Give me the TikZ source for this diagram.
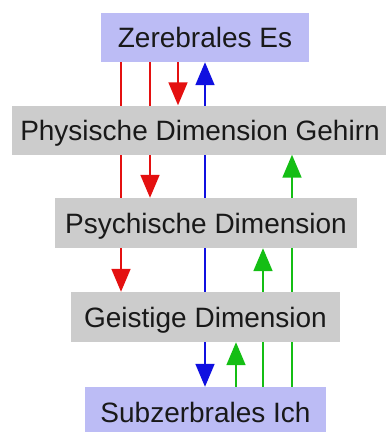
\documentclass[tikz,border=0pt]{standalone}
\usepackage{fontspec}
\setmainfont{Liberation Sans}
\usetikzlibrary{arrows.meta,backgrounds}
\definecolor{lav}{RGB}{188,188,245}
\definecolor{gry}{RGB}{204,204,204}
\definecolor{lred}{RGB}{228,16,16}
\definecolor{lblue}{RGB}{16,16,224}
\definecolor{lgreen}{RGB}{20,190,20}
\tikzset{
  box/.style={inner sep=0pt, text height=20pt, text depth=0pt,
    font=\fontsize{28}{33}\selectfont, text=black!90},
  lavbox/.style={box, fill=lav},
  grybox/.style={box, fill=gry},
  conn/.style={line width=1.8pt},
  tip/.style={-{Triangle[length=23pt,width=19pt]}},
  bitip/.style={{Triangle[length=23pt,width=19pt]}-{Triangle[length=23pt,width=19pt]}}
}
\begin{document}
\begin{tikzpicture}[x=1pt,y=-1pt]
\useasboundingbox (0,0) rectangle (386,432);
\node[lavbox, minimum width=208pt, minimum height=49pt] (es) at (205,37.5) {Zerebrales Es};
\node[grybox, minimum width=376pt, minimum height=49pt] (phys) at (200,130) {Physische Dimension Gehirn};
\node[grybox, minimum width=302pt, minimum height=50pt] (psych) at (206,223) {Psychische Dimension};
\node[grybox, minimum width=269pt, minimum height=50pt] (geist) at (205.5,317) {Geistige Dimension};
\node[lavbox, minimum width=241pt, minimum height=50pt] (sub) at (205.5,412) {Subzerbrales Ich};
\coordinate (r1) at (121,0);
\coordinate (r2) at (150,0);
\coordinate (r3) at (178,0);
\coordinate (b1) at (205,0);
\coordinate (g1) at (236,0);
\coordinate (g2) at (263,0);
\coordinate (g3) at (292,0);
\begin{pgfonlayer}{background}
\draw[conn, lred, tip] (es.south -| r1) -- (geist.north -| r1);
\draw[conn, lred, tip] (es.south -| r2) -- (psych.north -| r2);
\draw[conn, lred, tip] (es.south -| r3) -- (phys.north -| r3);
\draw[conn, lblue, bitip] (es.south -| b1) -- (sub.north -| b1);
\draw[conn, lgreen, tip] (sub.north -| g1) -- (geist.south -| g1);
\draw[conn, lgreen, tip] (sub.north -| g2) -- (psych.south -| g2);
\draw[conn, lgreen, tip] (sub.north -| g3) -- (phys.south -| g3);
\end{pgfonlayer}
\end{tikzpicture}
\end{document}
